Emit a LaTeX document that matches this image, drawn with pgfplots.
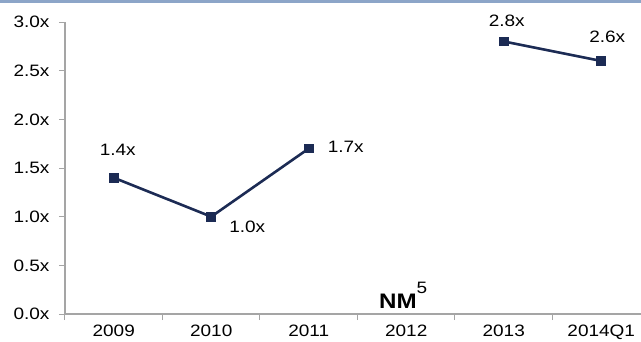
\documentclass[border=0pt]{standalone}
\usepackage{fontspec}
\setmainfont{Liberation Sans}
\newfontfamily\stretchfont[FakeStretch=1.15]{Liberation Sans}
\usepackage{pgfplots}
\pgfplotsset{compat=1.18}
\definecolor{navy}{RGB}{28,43,84}
\definecolor{axgray}{RGB}{165,165,165}
\definecolor{topband}{RGB}{140,165,200}
\newcommand\lf{\stretchfont\fontsize{16.5}{19}\selectfont}
\begin{document}
\begin{tikzpicture}[x=1pt,y=1pt]
\useasboundingbox (0,0) rectangle (641,341);
\fill[topband] (0,338) rectangle (641,341);
\begin{axis}[
  at={(65pt,27pt)}, anchor=south west,
  scale only axis, width=576pt, height=292pt,
  xmin=-0.5, xmax=5.408, ymin=0, ymax=3,
  axis lines=left, axis line style={axgray, line width=1.2pt, -},
  xtick={0,1,2,3,4,5},
  xticklabels={2009,2010,2011,2012,2013,2014Q1},
  minor xtick={-0.5,0.5,1.5,2.5,3.5,4.5},
  ytick={0,0.5,1,1.5,2,2.5,3},
  yticklabel={\pgfmathprintnumber[fixed,fixed zerofill,precision=1]{\tick}x},
  /pgf/number format/assume math mode=true,
  tick align=outside,
  major x tick style={draw=none},
  major tick length=6pt, minor tick length=6pt,
  every tick/.style={axgray, line width=1pt},
  tick label style={font=\lf},
  yticklabel style={anchor=east, xshift=-6pt},
  xticklabel style={anchor=north, yshift=-1pt},
  unbounded coords=jump,
  clip=false,
]
\addplot[navy, line width=2.6pt, mark=square*, mark size=3.6pt, mark options={solid}]
  coordinates {(0,1.4) (1,1.0) (2,1.7) (3,nan) (4,2.8) (5,2.6)};
\node[font=\lf] at (axis cs:0,1.4) [xshift=4pt,yshift=28pt] {1.4x};
\node[font=\lf] at (axis cs:1,1.0) [xshift=36pt,yshift=-10pt] {1.0x};
\node[font=\lf] at (axis cs:2,1.7) [xshift=37pt,yshift=2pt] {1.7x};
\node[font=\lf] at (axis cs:4,2.8) [xshift=3pt,yshift=21pt] {2.8x};
\node[font=\lf] at (axis cs:5,2.6) [xshift=6pt,yshift=24pt] {2.6x};
\node[anchor=base, inner sep=0pt] at (axis cs:3,0.06) [xshift=-3pt]
  {{\stretchfont\fontsize{21}{23}\selectfont\bfseries NM}\raisebox{15pt}{\lf 5}};
\end{axis}
\end{tikzpicture}
\end{document}
